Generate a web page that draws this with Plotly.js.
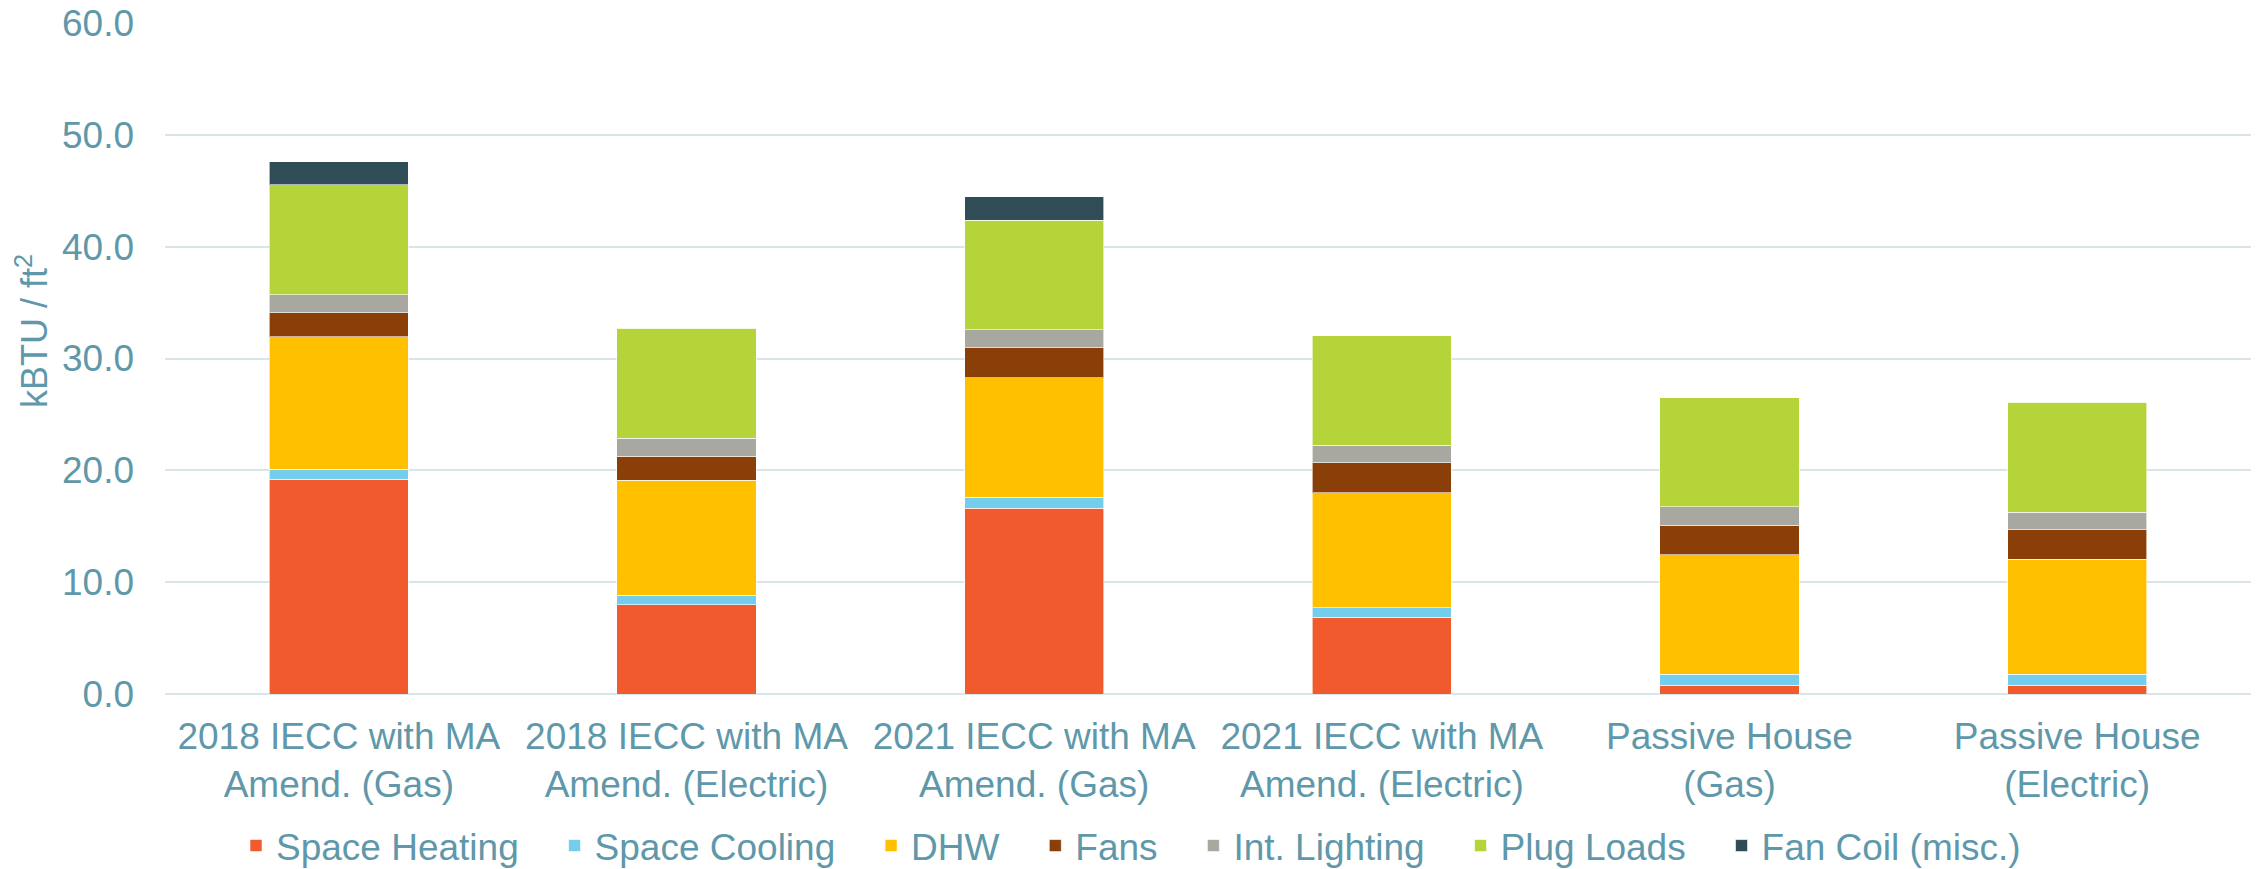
<!DOCTYPE html>
<html>
<head>
<meta charset="utf-8">
<script src="https://cdn.plot.ly/plotly-3.0.1.min.js"></script>
<style>html,body{margin:0;padding:0;background:#fff;}#chart{width:2262px;height:869px;}</style>
</head>
<body>
<div id="chart"></div>
<script>
const categories = [
  "2018 IECC with MA<br>Amend. (Gas)",
  "2018 IECC with MA<br>Amend. (Electric)",
  "2021 IECC with MA<br>Amend. (Gas)",
  "2021 IECC with MA<br>Amend. (Electric)",
  "Passive House<br>(Gas)",
  "Passive House<br>(Electric)"
];
const spaceHeating = [19.2, 8.0, 16.6, 6.85, 0.77, 0.77];
const spaceCooling = [0.9, 0.85, 1.0, 0.85, 1.0, 1.0];
const dhw = [11.85, 10.25, 10.7, 10.3, 10.7, 10.3];
const fans = [2.15, 2.15, 2.65, 2.7, 2.62, 2.62];
const intLighting = [1.6, 1.6, 1.6, 1.55, 1.64, 1.58];
const plugLoads = [9.85, 9.85, 9.8, 9.8, 9.75, 9.8];
const fanCoil = [2.05, 0, 2.1, 0, 0, 0];

const seriesNames = ["Space Heating", "Space Cooling", "DHW", "Fans", "Int. Lighting", "Plug Loads", "Fan Coil (misc.)"];
const seriesValues = [spaceHeating, spaceCooling, dhw, fans, intLighting, plugLoads, fanCoil];
const seriesColors = ["#F05A2C", "#75CDED", "#FFC000", "#8A3E08", "#A9A8A0", "#B4D43A", "#2F4C57"];

const textColor = "#5E98AA";
const fontFamily = "Arial, 'Liberation Sans', sans-serif";
const legendPad = "\u00A0\u00A0\u00A0";

const traces = seriesNames.map((name, i) => ({
  type: "bar",
  name: name + (i < seriesNames.length - 1 ? legendPad : ""),
  x: categories,
  y: seriesValues[i],
  marker: { color: seriesColors[i], line: { color: "rgba(255,255,255,0.6)", width: 1 } },
  hoverinfo: "x+y+name"
}));

const layout = {
  width: 2262,
  height: 869,
  barmode: "stack",
  bargap: 0.6,
  paper_bgcolor: "#ffffff",
  plot_bgcolor: "#ffffff",
  font: { family: fontFamily, size: 37, color: textColor },
  margin: { l: 165, r: 11, t: 23, b: 175 },
  xaxis: {
    type: "category",
    tickfont: { size: 37, color: textColor },
    showgrid: false,
    showline: false,
    zeroline: false,
    ticks: "",
    ticklabelstandoff: 17
  },
  yaxis: {
    range: [0, 60],
    dtick: 10,
    tick0: 0,
    tickformat: ".1f",
    tickfont: { size: 37, color: textColor },
    showgrid: true,
    gridcolor: "#D9E5E9",
    gridwidth: 2,
    zeroline: true,
    zerolinecolor: "#D9E5E9",
    zerolinewidth: 2,
    showline: false,
    ticks: "",
    ticklabelstandoff: 30
  },
  showlegend: true,
  legend: {
    orientation: "h",
    xref: "container",
    yref: "container",
    x: 0.5,
    xanchor: "center",
    y: 1 - 846 / 869,
    yanchor: "middle",
    font: { size: 37, color: textColor },
    traceorder: "normal",
    itemclick: false
  },
  annotations: [{
    text: "kBTU / ft<sup>2</sup>",
    xref: "paper",
    yref: "paper",
    x: 0,
    xshift: -133,
    y: (694 - 331) / 671,
    textangle: -90,
    showarrow: false,
    xanchor: "center",
    yanchor: "middle",
    font: { size: 36, color: textColor, family: fontFamily }
  }]
};

Plotly.newPlot("chart", traces, layout, { displayModeBar: false, staticPlot: true });
</script>
</body>
</html>
